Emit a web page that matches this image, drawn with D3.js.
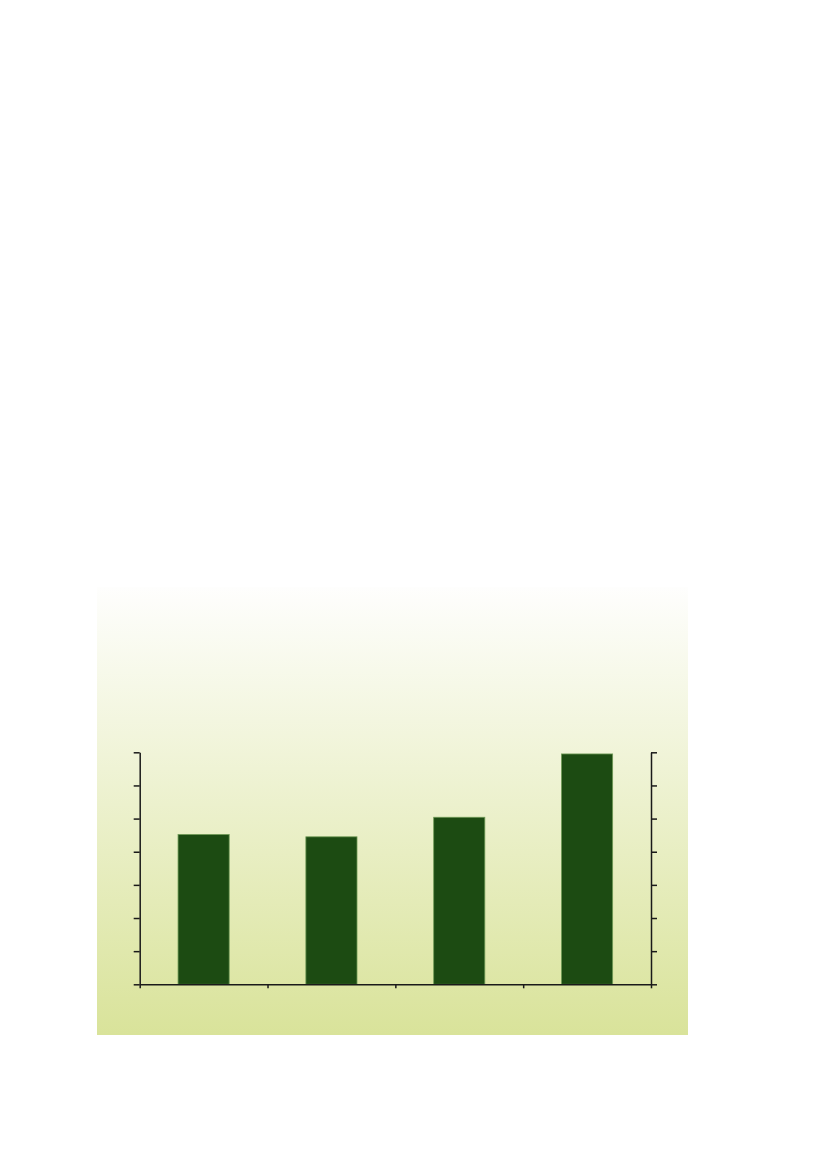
<!DOCTYPE html>
<html>
<head>
<meta charset="utf-8">
<script src="https://cdn.jsdelivr.net/npm/d3@7"></script>
<style>
  html, body { margin: 0; padding: 0; background: #fff; }
  svg { display: block; }
</style>
</head>
<body>
<svg id="chart" width="827" height="1169"></svg>
<script>
// data
var categories = ["A", "B", "C", "D"];
var values = [4.52, 4.45, 5.04, 6.95];
var yTicks = [0, 1, 2, 3, 4, 5, 6, 7];

var svg = d3.select("#chart");

// panel with vertical gradient
var defs = svg.append("defs");
var grad = defs.append("linearGradient")
    .attr("id", "bg")
    .attr("x1", 0).attr("y1", 0)
    .attr("x2", 0).attr("y2", 1);
grad.append("stop").attr("offset", "0%").attr("stop-color", "#fefefd");
grad.append("stop").attr("offset", "100%").attr("stop-color", "#d9e39a");

svg.append("rect")
    .attr("x", 97).attr("y", 587)
    .attr("width", 591).attr("height", 448)
    .attr("fill", "url(#bg)");

var plotLeft = 139.7, plotRight = 651, plotTop = 752.3, plotBottom = 984.3;

var x = d3.scaleBand()
    .domain(categories)
    .range([plotLeft, plotRight])
    .paddingInner(0.6)
    .paddingOuter(0.3);

var xEdge = d3.scaleLinear()
    .domain([0, categories.length])
    .range([plotLeft, plotRight]);

var y = d3.scaleLinear()
    .domain([0, 7])
    .range([plotBottom, plotTop]);

// bars
svg.append("g").selectAll("rect")
    .data(values)
    .enter().append("rect")
    .attr("x", function (d, i) { return x(categories[i]); })
    .attr("y", function (d) { return y(d); })
    .attr("width", x.bandwidth())
    .attr("height", function (d) { return y(0) - y(d); })
    .attr("fill", "#1c4b12")
    .attr("stroke", "#6f9a56")
    .attr("stroke-width", 0.8);

function styleAxis(g) {
    g.selectAll("path, line")
        .attr("stroke", "#1a1a1a")
        .attr("stroke-width", 1.5);
    g.selectAll("text").remove();
}

// left axis
svg.append("g")
    .attr("transform", "translate(" + plotLeft + ",0)")
    .call(d3.axisLeft(y).tickValues(yTicks).tickSize(6).tickSizeOuter(0).tickFormat(""))
    .call(styleAxis);

// right axis
svg.append("g")
    .attr("transform", "translate(" + plotRight + ",0)")
    .call(d3.axisRight(y).tickValues(yTicks).tickSize(6).tickSizeOuter(0).tickFormat(""))
    .call(styleAxis);

// bottom axis, ticks at category boundaries
svg.append("g")
    .attr("transform", "translate(0," + plotBottom + ")")
    .call(d3.axisBottom(xEdge).tickValues(d3.range(categories.length + 1)).tickSize(4).tickSizeOuter(0).tickFormat(""))
    .call(styleAxis);
</script>
</body>
</html>
